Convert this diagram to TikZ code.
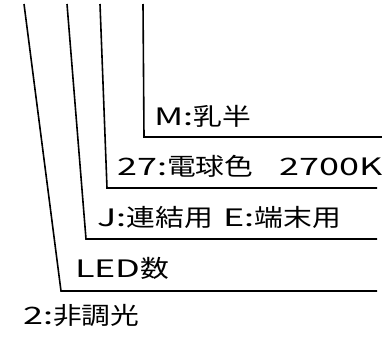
\documentclass[tikz,border=0pt]{standalone}
\usepackage{fontspec}
\newfontfamily\cj[FakeStretch=1.2]{Noto Sans CJK JP}
\newfontfamily\la[FakeStretch=1.5]{Noto Sans CJK JP}
\begin{document}
\begin{tikzpicture}[x=1pt,y=-1pt,
  leader/.style={line width=1.6pt, line join=miter},
  lbl/.style={anchor=base west, inner sep=0pt, font=\fontsize{24}{24}\selectfont}]
\useasboundingbox (0,0) rectangle (382,338);
% leader coordinates
\coordinate (a1) at (24,4);  \coordinate (b1) at (61,291);  \coordinate (c1) at (377,291);
\coordinate (a2) at (67,4);  \coordinate (b2) at (86,239);  \coordinate (c2) at (377,239);
\coordinate (a3) at (100,4); \coordinate (b3) at (107,188); \coordinate (c3) at (377,188);
\coordinate (a4) at (143,4); \coordinate (b4) at (144,137); \coordinate (c4) at (382,137);
\draw[leader] (a1) -- (b1) -- (c1);
\draw[leader] (a2) -- (b2) -- (c2);
\draw[leader] (a3) -- (b3) -- (c3);
\draw[leader] (a4) -- (b4) -- (c4);
% labels
\node[lbl] (t4) at (154,125) {{\la M:}{\cj 乳半}};
\node[lbl] (t3) at (117,175) {\makebox[162pt][l]{{\la 27:}{\cj 電球色}}{\la 2700K}};
\node[lbl] (t2) at (97,226) {\makebox[126pt][l]{{\la J:}{\cj 連結用}}{\la E:}{\cj 端末用}};
\node[lbl] (t1) at (75,277) {{\la LED}{\cj 数}};
\node[lbl] (t0) at (23,324) {{\la 2:}{\cj 非調光}};
\end{tikzpicture}
\end{document}
